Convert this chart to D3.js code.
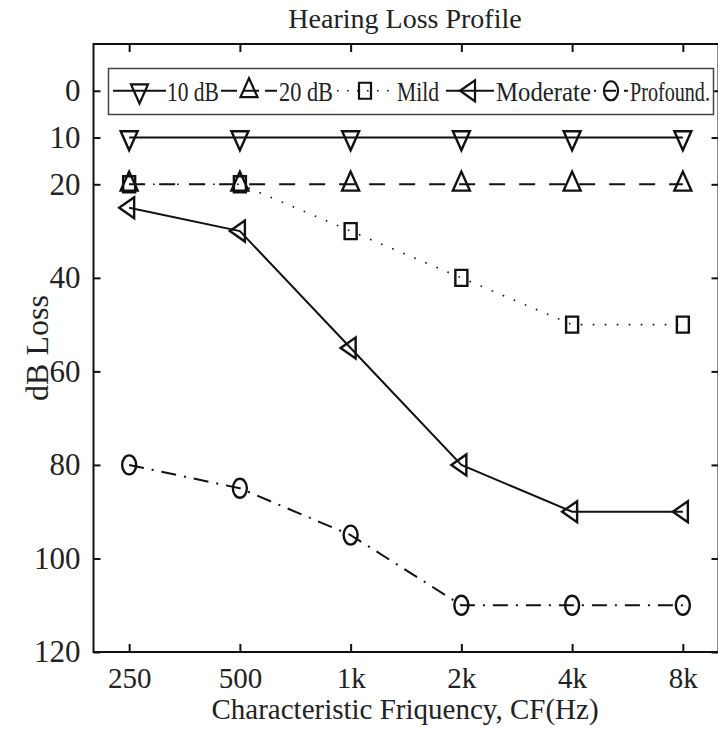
<!DOCTYPE html>
<html>
<head>
<meta charset="utf-8">
<script src="https://cdn.jsdelivr.net/npm/d3@7"></script>
<style>
  html, body { margin: 0; padding: 0; background: #fff; }
  svg { display: block; }
</style>
</head>
<body>
<script>
// Audiogram profiles: hearing threshold loss (dB) per characteristic frequency
const frequencies = [250, 500, 1000, 2000, 4000, 8000];
const freqLabels = ["250", "500", "1k", "2k", "4k", "8k"];
const dbTicks = [0, 10, 20, 40, 60, 80, 100, 120];

const loss10dB     = [10, 10, 10, 10, 10, 10];
const loss20dB     = [20, 20, 20, 20, 20, 20];
const lossMild     = [20, 20, 30, 40, 50, 50];
const lossModerate = [25, 30, 55, 80, 90, 90];
const lossProfound = [80, 85, 95, 110, 110, 110];

const seriesNames = ["10 dB", "20 dB", "Mild", "Moderate", "Profound"];

const FONT = "'Liberation Serif', 'Times New Roman', Times, serif";
const W = 718, H = 730;
const M = { left: 93.5, right: 718.5, top: 44, bottom: 652 };

const svg = d3.select("body").append("svg").attr("width", W).attr("height", H)
  .attr("font-family", FONT);

const x = d3.scaleLog().base(2).domain([200, 10000]).range([M.left, M.right]);
const y = d3.scaleLinear().domain([-10, 120]).range([M.top, M.bottom]);

// marker shapes (centred on the data point)
const markerPath = {
  down: "M-8.5,-6.3 L8.5,-6.3 L0,12.7 Z",
  up: "M-8.5,6.3 L8.5,6.3 L0,-12.7 Z",
  left: "M-10,0 L5,-10.5 L5,10.5 Z",
  square: "M-6,-8 L6,-8 L6,8 L-6,8 Z",
  circle: "M-7,0 A7,9.5 0 1,0 7,0 A7,9.5 0 1,0 -7,0 Z"
};

const series = [
  { name: seriesNames[0], values: loss10dB, marker: "down", dash: null, width: 2 },
  { name: seriesNames[1], values: loss20dB, marker: "up", dash: "16,14", width: 2 },
  { name: seriesNames[2], values: lossMild, marker: "square", dash: "1.6,10.4", width: 1.6 },
  { name: seriesNames[3], values: lossModerate, marker: "left", dash: null, width: 2 },
  { name: seriesNames[4], values: lossProfound, marker: "circle", dash: "15,8,2,8", width: 2 }
];

// axes frame with inward ticks on all four sides
const axisG = svg.append("g").attr("class", "axes");
const styleAxis = size => g => {
  g.attr("font-family", FONT).attr("font-size", size);
  g.select(".domain").remove();
  g.selectAll(".tick line").attr("stroke", "#111").attr("stroke-width", 2);
  g.selectAll(".tick text").attr("fill", "#222");
};

axisG.append("g").attr("transform", `translate(${M.left},0)`)
  .call(d3.axisLeft(y).tickValues(dbTicks).tickSizeInner(-7).tickSizeOuter(0).tickPadding(13))
  .call(styleAxis(31));
axisG.append("g").attr("transform", `translate(${M.right},0)`)
  .call(d3.axisRight(y).tickValues(dbTicks).tickSizeInner(-7).tickSizeOuter(0).tickFormat(""))
  .call(styleAxis(31));
axisG.append("g").attr("transform", `translate(0,${M.bottom})`)
  .call(d3.axisBottom(x).tickValues(frequencies).tickSizeInner(-8).tickSizeOuter(0).tickPadding(15)
    .tickFormat((d, i) => freqLabels[i]))
  .call(styleAxis(29));
axisG.append("g").attr("transform", `translate(0,${M.top})`)
  .call(d3.axisTop(x).tickValues(frequencies).tickSizeInner(-8).tickSizeOuter(0).tickFormat(""))
  .call(styleAxis(29));

svg.append("rect")
  .attr("x", M.left).attr("y", M.top)
  .attr("width", M.right - M.left).attr("height", M.bottom - M.top)
  .attr("fill", "none").attr("stroke", "#111").attr("stroke-width", 2);

// series lines and markers
const line = d3.line().x((d, i) => x(frequencies[i])).y(d => y(d));
const plot = svg.append("g").attr("class", "series");
series.forEach(s => {
  plot.append("path")
    .attr("d", line(s.values))
    .attr("fill", "none")
    .attr("stroke", "#111")
    .attr("stroke-width", s.width)
    .attr("stroke-dasharray", s.dash);
  plot.selectAll(null).data(s.values).enter().append("path")
    .attr("d", markerPath[s.marker])
    .attr("transform", (d, i) => `translate(${x(frequencies[i])},${y(d)})`)
    .attr("fill", "none")
    .attr("stroke", "#111")
    .attr("stroke-width", 2.4);
});

// legend: sample line + marker, then a horizontally condensed label
const legend = svg.append("g").attr("class", "legend");
const legY = y(0);
legend.append("rect")
  .attr("x", 108.5).attr("y", 68.5).attr("width", 605).attr("height", 46)
  .attr("fill", "#fff").attr("stroke", "#444").attr("stroke-width", 1.5);
const legSlots = [
  { x0: 113, x1: 166, textX: 167, textW: 52, dash: null },
  { x0: 221, x1: 277, textX: 279, textW: 54, dash: "16,6" },
  { x0: 337, x1: 393, textX: 397, textW: 42, dash: "1.6,8.4" },
  { x0: 446, x1: 494, textX: 496, textW: 95, dash: null },
  { x0: 594, x1: 628, textX: 630, textW: 80, dash: "2,8,10,0" }
];
series.forEach((s, i) => {
  const slot = legSlots[i];
  legend.append("line")
    .attr("x1", slot.x0).attr("x2", slot.x1)
    .attr("y1", legY).attr("y2", legY)
    .attr("stroke", "#111").attr("stroke-width", s.width)
    .attr("stroke-dasharray", slot.dash);
  legend.append("path")
    .attr("d", markerPath[s.marker])
    .attr("transform", `translate(${(slot.x0 + slot.x1) / 2},${legY})`)
    .attr("fill", "none").attr("stroke", "#111").attr("stroke-width", 2.2);
  const t = legend.append("text")
    .attr("x", 0).attr("y", 0)
    .attr("font-size", 28).attr("fill", "#222")
    .text(s.name + (i === series.length - 1 ? "." : ""));
  const k = slot.textW / t.node().getComputedTextLength();
  t.attr("transform", `translate(${slot.textX},${legY + 10}) scale(${k},1)`);
});

// title and axis labels
svg.append("text").attr("x", 405).attr("y", 28)
  .attr("text-anchor", "middle").attr("font-size", 28).attr("fill", "#222")
  .text("Hearing Loss Profile");
svg.append("text").attr("x", 405).attr("y", 719)
  .attr("text-anchor", "middle").attr("font-size", 29).attr("fill", "#222")
  .text("Characteristic Friquency, CF(Hz)");
svg.append("text")
  .attr("transform", `translate(48,${(M.top + M.bottom) / 2}) rotate(-90)`)
  .attr("text-anchor", "middle").attr("font-size", 32).attr("fill", "#222")
  .text("dB Loss");
</script>
</body>
</html>
